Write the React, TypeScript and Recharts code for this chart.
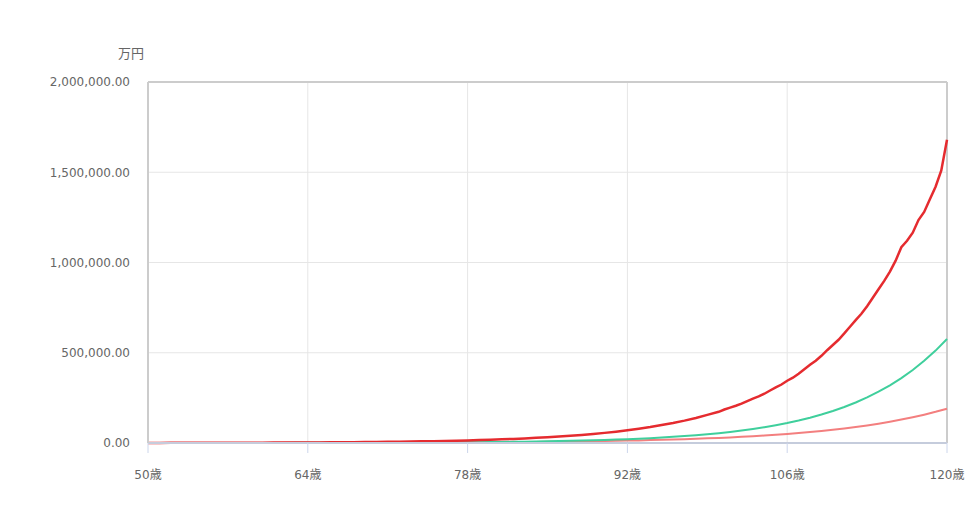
import { LineChart, Line, XAxis, YAxis, CartesianGrid, ReferenceLine } from 'recharts';

const AGES = [
  50, 51, 52, 53, 54, 55, 56, 57, 58, 59,
  60, 61, 62, 63, 64, 65, 66, 67, 68, 69,
  70, 71, 72, 73, 74, 75, 76, 77, 78, 79,
  80, 81, 82, 83, 84, 85, 86, 87, 88, 89,
  90, 91, 92, 93, 94, 95, 96, 97, 98, 99,
  100, 101, 102, 103, 104, 105, 106, 107, 108, 109,
  110, 111, 112, 113, 114, 115, 116, 117, 118, 119,
  120,
];

// middle case (green)
const GREEN = [
  151, 170, 191, 215, 242, 273, 307, 345, 388, 437,
  491, 553, 622, 700, 787, 885, 996, 1120, 1260, 1418,
  1595, 1795, 2019, 2271, 2555, 2875, 3234, 3638, 4093, 4604,
  5180, 5827, 6556, 7375, 8297, 9334, 10501, 11814, 13290, 14952,
  16821, 18923, 21289, 23950, 26943, 30311, 34100, 38363, 43158, 48553,
  54622, 61450, 69132, 77773, 87495, 98432, 110736, 124578, 140150, 157668,
  177377, 199549, 224493, 252554, 284123, 319639, 359594, 404543, 455111, 512000,
  576000,
];

// lower case (pink)
const PINK = [
  241, 265, 291, 320, 352, 388, 426, 469, 516, 567,
  624, 686, 755, 831, 914, 1005, 1105, 1216, 1338, 1471,
  1619, 1780, 1958, 2154, 2370, 2607, 2867, 3154, 3469, 3816,
  4198, 4618, 5080, 5588, 6147, 6761, 7437, 8181, 8999, 9899,
  10889, 11978, 13176, 14494, 15943, 17537, 19291, 21220, 23342, 25676,
  28243, 31067, 34174, 37591, 41350, 45485, 50034, 55037, 60541, 66595,
  73254, 80579, 88636, 97500, 107250, 117975, 129773, 142750, 157025, 172727,
  190000,
];

// upper case (red, jagged): yearly up to 99, then half-yearly
const RED_AGES = [
  50, 51, 52, 53, 54, 55, 56, 57, 58, 59,
  60, 61, 62, 63, 64, 65, 66, 67, 68, 69,
  70, 71, 72, 73, 74, 75, 76, 77, 78, 79,
  80, 81, 82, 83, 84, 85, 86, 87, 88, 89,
  90, 91, 92, 93, 94, 95, 96, 97, 98, 99,
  100, 100.5, 101, 101.5, 102, 102.5, 103, 103.5, 104, 104.5,
  105, 105.5, 106, 106.5, 107, 107.5, 108, 108.5, 109, 109.5,
  110, 110.5, 111, 111.5, 112, 112.5, 113, 113.5, 114, 114.5,
  115, 115.5, 116, 116.5, 117, 117.5, 118, 118.5, 119, 119.5,
  120,
];
const RED = [
  603, 675, 756, 847, 948, 1062, 1190, 1332, 1492, 1671,
  1872, 2096, 2348, 2629, 2945, 3298, 3694, 4138, 4634, 5190,
  5813, 6511, 7292, 8167, 9147, 10245, 11474, 12851, 14393, 16120,
  18054, 20221, 22647, 25365, 28409, 31818, 35636, 39912, 44702, 50066,
  56074, 62803, 70339, 78780, 88234, 99500, 110800, 123900, 138600, 155800,
  172900, 185500, 196000, 206500, 218000, 232500, 246000, 258000, 273000, 291000,
  308000, 324000, 345000, 362000, 384000, 408000, 433000, 456000, 483000, 514000,
  543000, 572000, 607000, 644000, 681000, 716000, 758000, 805000, 852000, 898000,
  950000, 1010000, 1085000, 1120000, 1165000, 1235000, 1280000, 1350000, 1420000, 1510000,
  1680000,
];

const X_TICKS = [50, 64, 78, 92, 106, 120];
const Y_TICKS = [0, 500000, 1000000, 1500000, 2000000];
const UNIT = '万円';

const data = AGES.map((age, i) => ({ age, green: GREEN[i], pink: PINK[i] }));
const redData = RED_AGES.map((age, i) => ({ age, red: RED[i] }));

const FONT = '"DejaVu Sans", "Noto Sans CJK JP", sans-serif';
const TICK_STYLE = { fontSize: 12, fill: '#666666', fontFamily: FONT };

function formatYen(v: number) {
  return v.toLocaleString('en-US', { minimumFractionDigits: 2, maximumFractionDigits: 2 });
}

export default function App() {
  return (
    <div style={{ position: 'relative', width: 967, height: 509, background: '#fff' }}>
      <style>{`body{margin:0}`}</style>
      <div
        style={{
          position: 'absolute',
          left: 118,
          top: 43,
          fontSize: 13,
          color: '#666',
          fontFamily: '"Noto Sans CJK JP", sans-serif',
        }}
      >
        {UNIT}
      </div>
      <LineChart width={967} height={509} data={data} margin={{ top: 82, right: 20, left: 0, bottom: 0 }}>
        <CartesianGrid stroke="#e6e6e6" strokeWidth={1} />
        <XAxis
          dataKey="age"
          type="number"
          domain={[50, 120]}
          ticks={X_TICKS}
          tickFormatter={(v) => `${v}歳`}
          tick={TICK_STYLE}
          height={66}
          tickSize={10}
          tickMargin={17}
          axisLine={{ stroke: '#c5ccdc', strokeWidth: 2 }}
          tickLine={{ stroke: '#ccd6eb' }}
          interval={0}
        />
        <YAxis
          domain={[0, 2000000]}
          ticks={Y_TICKS}
          tickFormatter={formatYen}
          tick={TICK_STYLE}
          width={148}
          tickLine={false}
          tickSize={8}
          tickMargin={10}
          axisLine={{ stroke: '#cccccc', strokeWidth: 2 }}
          interval={0}
        />
        <ReferenceLine y={2000000} stroke="#cccccc" strokeWidth={2} />
        <ReferenceLine x={120} stroke="#cccccc" strokeWidth={2} />
        <Line dataKey="pink" stroke="#f37f7f" strokeWidth={2} dot={false} isAnimationActive={false} />
        <Line dataKey="green" stroke="#3fcf9c" strokeWidth={2} dot={false} isAnimationActive={false} />
        <Line
          data={redData}
          dataKey="red"
          stroke="#e52b2f"
          strokeWidth={2.5}
          dot={false}
          isAnimationActive={false}
        />
      </LineChart>
    </div>
  );
}
